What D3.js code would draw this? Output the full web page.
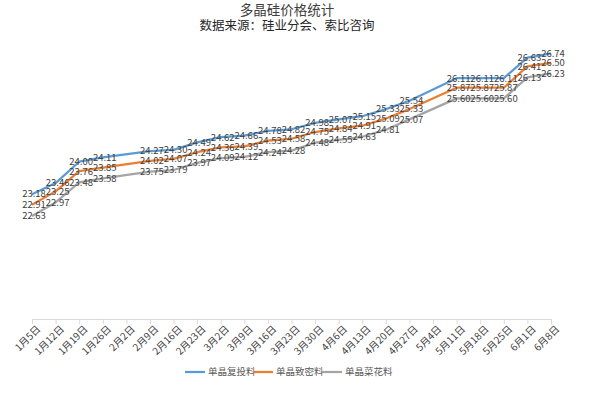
<!DOCTYPE html>
<html>
<head>
<meta charset="utf-8">
<script src="https://cdn.jsdelivr.net/npm/d3@7"></script>
<style>
	body { margin: 0; background: #fff; }
	svg text { font-family: "Noto Sans CJK SC", "Noto Sans", sans-serif; }
</style>
</head>
<body>
<div id="chart"></div>
<script>
// weekly dates
var dates = ['1月5日','1月12日','1月19日','1月26日','2月2日','2月9日','2月16日','2月23日','3月2日','3月9日','3月16日','3月23日','3月30日','4月6日','4月13日','4月20日','4月27日','5月4日','5月11日','5月18日','5月25日','6月1日','6月8日'];

// prices, null = no quote that week
var fuTou = [23.18, 23.46, 24.00, 24.11, null, 24.27, 24.30, 24.49, 24.62, 24.66, 24.78, 24.82, 24.98, 25.07, 25.15, 25.33, 25.54, null, 26.11, 26.11, 26.11, 26.63, 26.74];
var zhiMi = [22.91, 23.25, 23.76, 23.85, null, 24.02, 24.07, 24.24, 24.36, 24.39, 24.53, 24.58, 24.75, 24.84, 24.91, 25.09, 25.33, null, 25.87, 25.87, 25.87, 26.41, 26.50];
var caiHua = [22.63, 22.97, 23.48, 23.58, null, 23.75, 23.79, 23.97, 24.09, 24.12, 24.24, 24.28, 24.48, 24.55, 24.63, 24.81, 25.07, null, 25.60, 25.60, 25.60, 26.13, 26.23];

var seriesNames = ['单晶复投料', '单晶致密料', '单晶菜花料'];
var colors = ['#5B9BD5', '#ED7D31', '#A5A5A5'];

var svg = d3.select('#chart').append('svg').attr('width', 591).attr('height', 396);

var x = d3.scalePoint().domain(dates).range([32, 551]);
var y = d3.scaleLinear().domain([20, 27]).range([320, 43]);

// title
svg.append('text')
.attr('x', 287).attr('y', 15)
.attr('text-anchor', 'middle')
.attr('font-size', 13.5)
.attr('fill', '#404040')
.text('多晶硅价格统计');

svg.append('text')
.attr('x', 287).attr('y', 30)
.attr('text-anchor', 'middle')
.attr('font-size', 12.5)
.attr('fill', '#262626')
.text('数据来源：硅业分会、索比咨询');

// x axis
var axis = svg.append('g')
.attr('transform', 'translate(0,' + 319 + ')')
.call(d3.axisBottom(x).tickSize(5).tickSizeOuter(0));

axis.select('.domain').attr('stroke', '#d9d9d9');
axis.selectAll('.tick line').attr('stroke', '#d9d9d9');
axis.selectAll('.tick text')
.attr('font-size', 10)
.attr('fill', '#404040')
.attr('text-anchor', 'end')
.attr('dy', 0)
.attr('transform', 'translate(3,5) rotate(-45)');

// lines
var allSeries = [fuTou, zhiMi, caiHua];

var line = d3.line()
.x(function(d) { return x(d.date); })
.y(function(d) { return y(d.value); });

allSeries.forEach(function(values, i) {
	var pts = values.map(function(v, j) { return { date: dates[j], value: v }; })
	.filter(function(d) { return d.value != null; });

	svg.append('path')
	.datum(pts)
	.attr('fill', 'none')
	.attr('stroke', colors[i])
	.attr('stroke-width', 2.25)
	.attr('stroke-linejoin', 'round')
	.attr('d', line);
});

// data labels on top
allSeries.forEach(function(values, i) {
	var pts = values.map(function(v, j) { return { date: dates[j], value: v }; })
	.filter(function(d) { return d.value != null; });

	svg.append('g').selectAll('text')
	.data(pts)
	.enter().append('text')
	.attr('x', function(d) { return x(d.date) + 2; })
	.attr('y', function(d) { return y(d.value); })
	.attr('dy', '0.35em')
	.attr('text-anchor', 'middle')
	.attr('font-size', 9.5)
	.attr('fill', '#404040')
	.text(function(d) { return d.value.toFixed(2); });
});

// legend
var legendX = [185, 253, 322];
var legend = svg.append('g');
seriesNames.forEach(function(name, i) {
	legend.append('line')
	.attr('x1', legendX[i]).attr('x2', legendX[i] + 20)
	.attr('y1', 372).attr('y2', 372)
	.attr('stroke', colors[i])
	.attr('stroke-width', 2.25);

	legend.append('text')
	.attr('x', legendX[i] + 23).attr('y', 372)
	.attr('dy', '0.35em')
	.attr('font-size', 9.5)
	.attr('fill', '#595959')
	.text(name);
});
</script>
</body>
</html>
